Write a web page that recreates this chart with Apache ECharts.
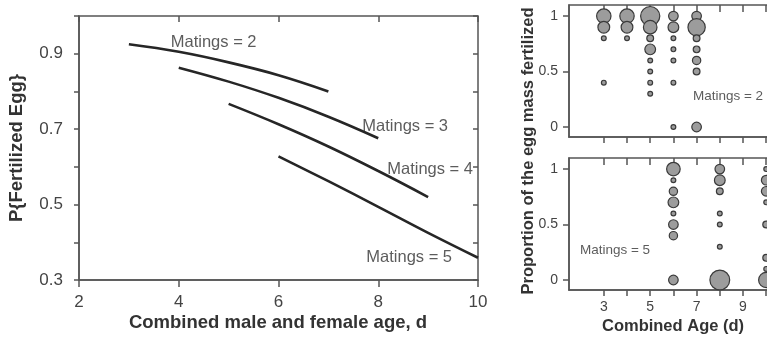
<!DOCTYPE html>
<html><head><meta charset="utf-8">
<script src="https://cdn.jsdelivr.net/npm/echarts@6/dist/echarts.min.js"></script>
<style>html,body{margin:0;padding:0;background:#fff}#c{width:767px;height:338px}</style>
</head><body><div id="c"></div>
<script>
const FONT = '"Liberation Sans", Arial, Helvetica, sans-serif';

// ---- Left panel: fitted curves ----
const ageTicksLeft = [2, 4, 6, 8, 10];
const pTicks = [0.3, 0.4, 0.5, 0.6, 0.7, 0.8, 0.9, 1.0];
const pLabels = [0.3, 0.5, 0.7, 0.9];
const m2Age = [3, 4, 5, 6, 7],  m2P = [0.925, 0.905, 0.877, 0.843, 0.800];
const m3Age = [4, 5, 6, 7, 8],  m3P = [0.863, 0.826, 0.783, 0.733, 0.676];
const m4Age = [5, 6, 7, 8, 9],  m4P = [0.767, 0.713, 0.654, 0.589, 0.520];
const m5Age = [6, 7, 8, 9, 10], m5P = [0.628, 0.562, 0.494, 0.425, 0.359];
const curveLabels = ['Matings = 2', 'Matings = 3', 'Matings = 4', 'Matings = 5'];
const curveLabelAge = [3.84, 7.68, 8.18, 7.76];
const curveLabelP = [0.929, 0.708, 0.593, 0.361];

// ---- Right panels: bubble plots ----
const ageTicksRight = [3, 4, 5, 6, 7, 8, 9, 10, 11];
const ageLabelsRight = [3, 5, 7, 9, 11];
const propTicks = [0, 0.5, 1];
// Matings = 2
const top2Age   = [3, 3, 3, 3,   4, 4, 4,   5, 5, 5, 5, 5, 5, 5, 5,   6, 6, 6, 6, 6, 6, 6,   7, 7, 7, 7, 7, 7, 7];
const top2Prop  = [1, 0.9, 0.8, 0.4,   1, 0.9, 0.8,   1, 0.9, 0.8, 0.7, 0.6, 0.5, 0.4, 0.3,   1, 0.9, 0.8, 0.7, 0.6, 0.4, 0,   1, 0.9, 0.8, 0.7, 0.6, 0.5, 0];
const top2Count = [9, 6, 1, 1,   9, 6, 1,   16, 8, 2, 5, 1, 1, 1, 1,   4, 5, 1, 1, 1, 1, 1,   4, 13, 2, 2, 3, 2, 4];
// Matings = 5
const bot5Age   = [6, 6, 6, 6, 6, 6, 6, 6,   8, 8, 8, 8, 8, 8, 8,   10, 10, 10, 10, 10, 10, 10, 10];
const bot5Prop  = [1, 0.9, 0.8, 0.7, 0.6, 0.5, 0.4, 0,   1, 0.9, 0.8, 0.6, 0.5, 0.3, 0,   1, 0.9, 0.8, 0.7, 0.5, 0.2, 0.1, 0];
const bot5Count = [8, 1, 3, 5, 1, 4, 3, 4,   4, 5, 2, 1, 1, 1, 17,   1, 4, 4, 1, 2, 2, 1, 10];
const panelLabels = ['Matings = 2', 'Matings = 5'];
const panelLabelAge = [6.84, 1.97];
const panelLabelProp = [0.28, 0.27];

const AX = '#555', TXT = '#333';
const zip = (a, b) => a.map((v, i) => [v, b[i]]);
const zip3 = (a, b, c) => a.map((v, i) => [v, b[i], c[i]]);

function xAx(grid, min, max, ticks, labels, fs, margin, inside, len) {
  return {
    type: 'value', gridIndex: grid, min: min, max: max,
    axisLine: { show: !inside, onZero: false, lineStyle: { color: AX, width: 1.5 } },
    axisTick: { show: true, inside: inside, length: len, customValues: ticks, lineStyle: { color: AX, width: 1.5 } },
    axisLabel: { show: !inside && labels.length > 0, customValues: labels, fontSize: fs, color: '#444', fontFamily: FONT, margin: margin },
    splitLine: { show: false }
  };
}
function yAx(grid, min, max, ticks, labels, fs, margin, inside, len, fmt) {
  return {
    type: 'value', gridIndex: grid, min: min, max: max,
    axisLine: { show: !inside, onZero: false, lineStyle: { color: AX, width: 1.5 } },
    axisTick: { show: true, inside: inside, length: len, customValues: ticks, lineStyle: { color: AX, width: 1.5 } },
    axisLabel: { show: !inside, customValues: labels, fontSize: fs, color: '#444', fontFamily: FONT, margin: margin, formatter: fmt },
    splitLine: { show: false }
  };
}

const bubbleStyle = { color: '#9c9c9c', borderColor: '#3a3a3a', borderWidth: 1.2, opacity: 1 };
const curveStyle = { color: '#262626', width: 2.6 };

function curve(age, p) {
  return { type: 'line', xAxisIndex: 0, yAxisIndex: 0, data: zip(age, p), smooth: 0.4,
    showSymbol: false, lineStyle: curveStyle, silent: true, z: 3 };
}

const option = {
  animation: false,
  textStyle: { fontFamily: FONT },
  grid: [
    { left: 79, top: 16, width: 399, height: 264, show: true, borderColor: AX, borderWidth: 1.5, outerBoundsMode: 'none', containLabel: false },
    { left: 569, top: 5, width: 232, height: 132, show: true, borderColor: AX, borderWidth: 1.5, outerBoundsMode: 'none', containLabel: false },
    { left: 569, top: 158, width: 232, height: 132, show: true, borderColor: AX, borderWidth: 1.5, outerBoundsMode: 'none', containLabel: false }
  ],
  xAxis: [
    xAx(0, 2, 10, ageTicksLeft, ageTicksLeft, 17, 14, false, 7),
    xAx(1, 1.5, 11.5, ageTicksRight, [], 14, 8, false, 6),
    xAx(2, 1.5, 11.5, ageTicksRight, ageLabelsRight, 14, 10, false, 6),
    xAx(0, 2, 10, ageTicksLeft, [], 17, 12, true, 6),
    xAx(1, 1.5, 11.5, ageTicksRight, [], 14, 8, true, 7),
    xAx(2, 1.5, 11.5, ageTicksRight, [], 14, 8, true, 7)
  ],
  yAxis: [
    yAx(0, 0.3, 1.0, pTicks, pLabels, 17, 16, false, 5, v => v.toFixed(1)),
    yAx(1, -0.09, 1.1, propTicks, propTicks, 14, 11, false, 6, v => String(v)),
    yAx(2, -0.09, 1.1, propTicks, propTicks, 14, 11, false, 6, v => String(v)),
    yAx(0, 0.3, 1.0, pTicks, [], 17, 16, true, 5, null),
    yAx(1, -0.09, 1.1, propTicks, [], 14, 11, true, 6, null),
    yAx(2, -0.09, 1.1, propTicks, [], 14, 11, true, 6, null)
  ],
  series: [
    curve(m2Age, m2P), curve(m3Age, m3P), curve(m4Age, m4P), curve(m5Age, m5P),
    { type: 'scatter', xAxisIndex: 0, yAxisIndex: 0, symbolSize: 0, silent: true, z: 5,
      data: curveLabels.map((t, i) => [curveLabelAge[i], curveLabelP[i], t]),
      label: { show: true, position: 'right', distance: 0, formatter: p => p.data[2],
        fontSize: 16.5, color: TXT, fontFamily: FONT } },
    { type: 'scatter', xAxisIndex: 1, yAxisIndex: 1, clip: false, z: 4,
      data: zip3(top2Age, top2Prop, top2Count), symbolSize: v => 4.8 * Math.sqrt(v[2]), itemStyle: bubbleStyle },
    { type: 'scatter', xAxisIndex: 2, yAxisIndex: 2, clip: false, z: 4,
      data: zip3(bot5Age, bot5Prop, bot5Count), symbolSize: v => 4.8 * Math.sqrt(v[2]), itemStyle: bubbleStyle },
    { type: 'scatter', xAxisIndex: 1, yAxisIndex: 1, symbolSize: 0, silent: true, z: 5,
      data: [[panelLabelAge[0], panelLabelProp[0], panelLabels[0]]],
      label: { show: true, position: 'right', distance: 0, formatter: p => p.data[2],
        fontSize: 13.5, color: TXT, fontFamily: FONT } },
    { type: 'scatter', xAxisIndex: 2, yAxisIndex: 2, symbolSize: 0, silent: true, z: 5,
      data: [[panelLabelAge[1], panelLabelProp[1], panelLabels[1]]],
      label: { show: true, position: 'right', distance: 0, formatter: p => p.data[2],
        fontSize: 13.5, color: TXT, fontFamily: FONT } }
  ],
  graphic: [
    { type: 'text', x: 278, y: 323, style: { text: 'Combined male and female age, d', align: 'center', verticalAlign: 'middle',
      font: 'bold 18.5px ' + FONT, fill: TXT } },
    { type: 'text', x: 17, y: 148, rotation: Math.PI / 2, style: { text: 'P{Fertilized Egg}', align: 'center', verticalAlign: 'middle',
      font: 'bold 18.5px ' + FONT, fill: TXT } },
    { type: 'text', x: 673, y: 326, style: { text: 'Combined Age (d)', align: 'center', verticalAlign: 'middle',
      font: 'bold 16.5px ' + FONT, fill: TXT } },
    { type: 'text', x: 528, y: 151, rotation: Math.PI / 2, style: { text: 'Proportion of the egg mass fertilized', align: 'center', verticalAlign: 'middle',
      font: 'bold 16.5px ' + FONT, fill: TXT } }
  ]
};
const chart = echarts.init(document.getElementById('c'), null, { renderer: 'canvas' });
chart.setOption(option);
</script>
</body></html>
